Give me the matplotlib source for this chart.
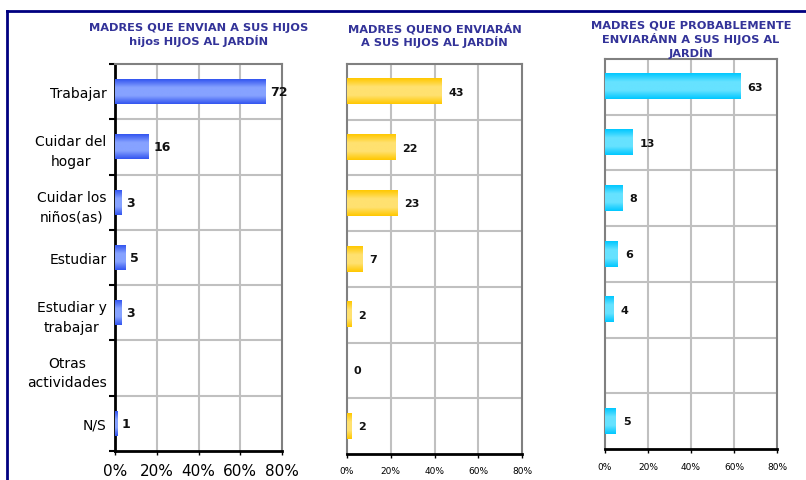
import numpy as np
import matplotlib.pyplot as plt
from matplotlib.colors import LinearSegmentedColormap
from matplotlib.lines import Line2D

categorias = ['Trabajar', 'Cuidar del\nhogar', 'Cuidar los\nniños(as)', 'Estudiar',
              'Estudiar y\ntrabajar', 'Otras\nactividades', 'N/S']
envian = [72, 16, 3, 5, 3, None, 1]
no_enviaran = [43, 22, 23, 7, 2, 0, 2]
probablemente = [63, 13, 8, 6, 4, None, 5]
ticks_x = [0, 20, 40, 60, 80]

titulos = ['MADRES QUE ENVIAN A SUS HIJOS\nhijos HIJOS AL JARDÍN',
           'MADRES QUENO ENVIARÁN\nA SUS HIJOS AL JARDÍN',
           'MADRES QUE PROBABLEMENTE\nENVIARÁNN A SUS HIJOS AL\nJARDÍN']

W, H = 806, 481
fig = plt.figure(figsize=(W / 100, H / 100), dpi=100)
fig.patch.set_facecolor('white')

# marco azul exterior
fig.add_artist(Line2D([7 / W, 7 / W], [0, 1 - 12 / H], color='#000080', lw=2))
fig.add_artist(Line2D([7 / W, 1], [1 - 12 / H, 1 - 12 / H], color='#000080', lw=2))


def panel(caja, valores, oscuro, claro, titulo, titulo_y, etiquetas=False):
    x0, x1, y0, y1 = caja
    ax = fig.add_axes([x0 / W, 1 - y1 / H, (x1 - x0) / W, (y1 - y0) / H])
    cmap = LinearSegmentedColormap.from_list('g', [oscuro, claro, claro, oscuro])
    grad = np.linspace(0, 1, 64).reshape(-1, 1)
    alto = 0.45
    n = len(valores)
    for i, v in enumerate(valores):
        if v is None:
            continue
        if v > 0:
            ax.imshow(grad, extent=(0, v, i + alto / 2, i - alto / 2), cmap=cmap,
                      aspect='auto', zorder=3, interpolation='bilinear')
        ax.annotate(str(v), (v, i), xytext=(3.5 if etiquetas else 5, 0),
                    textcoords='offset points', va='center', ha='left',
                    fontsize=9 if etiquetas else 8, fontweight='bold',
                    color='#111111', zorder=4)
    ax.set_xlim(0, 80)
    ax.set_ylim(n - 0.5, -0.5)
    ax.set_xticks(ticks_x)
    ax.set_xticklabels([f'{t}%' for t in ticks_x])
    for t in ticks_x[1:-1]:
        ax.axvline(t, color='#c0c0c0', lw=1.5, zorder=1)
    for k in range(1, n):
        ax.axhline(k - 0.5, color='#c0c0c0', lw=1.5, zorder=1)
    for lado in ['top', 'right']:
        ax.spines[lado].set_color('#808080')
        ax.spines[lado].set_linewidth(1.5)
    ax.spines['bottom'].set_color('black')
    ax.spines['bottom'].set_linewidth(2)
    ax.tick_params(axis='x', length=3, width=1, direction='out', pad=6)
    if etiquetas:
        ax.spines['left'].set_color('black')
        ax.spines['left'].set_linewidth(2)
        ax.set_yticks(np.arange(n + 1) - 0.5, minor=True)
        ax.set_yticks(range(n))
        ax.set_yticklabels(categorias, fontsize=10, multialignment='center',
                           linespacing=1.5)
        ax.tick_params(axis='y', which='major', length=0, pad=6)
        ax.tick_params(axis='y', which='minor', length=4, width=1.5)
        for lab in ax.get_xticklabels():
            lab.set_fontsize(11)
    else:
        ax.spines['left'].set_color('#808080')
        ax.spines['left'].set_linewidth(1.5)
        ax.set_yticks([])
        for lab in ax.get_xticklabels():
            lab.set_fontsize(6.5)
    fig.text((x0 + x1) / 2 / W, 1 - titulo_y / H, titulo, ha='center', va='top',
             fontsize=8.2, fontweight='bold', color='#333399', linespacing=1.2)
    return ax


panel((115, 282, 65, 452), envian, '#3355f0', '#86a2ff', titulos[0], 23, etiquetas=True)
panel((347, 522, 65, 455), no_enviaran, '#ffc800', '#ffe170', titulos[1], 23)
panel((605, 777, 60, 450), probablemente, '#00c8ff', '#66e2ff', titulos[2], 21)

fig.savefig('out.png', dpi=100)
